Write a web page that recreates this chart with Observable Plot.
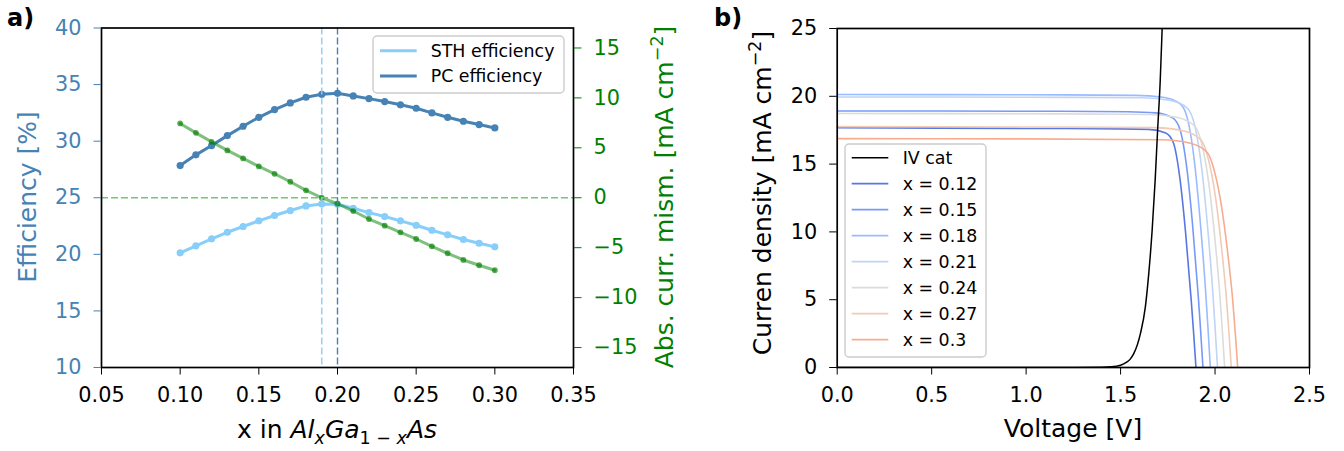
<!DOCTYPE html>
<html>
<head>
<meta charset="utf-8">
<script src="https://cdn.jsdelivr.net/npm/d3@7"></script>
<script src="https://cdn.jsdelivr.net/npm/@observablehq/plot@0.6"></script>
<style>
  html, body { margin: 0; padding: 0; background: #fff; }
  #wrap { position: relative; width: 1344px; height: 451px; overflow: hidden; font-family: "DejaVu Sans", sans-serif; }
  #wrap > svg, #wrap > div { position: absolute; top: 0; }
  #overlay { position: absolute; left: 0; top: 0; pointer-events: none; }
</style>
</head>
<body>
<div id="wrap"></div>
<script>
// ---------- Panel a) data ----------
const alX = [0.10,0.11,0.12,0.13,0.14,0.15,0.16,0.17,0.18,0.19,0.20,0.21,0.22,0.23,0.24,0.25,0.26,0.27,0.28,0.29,0.30];
const pcEff = [27.84,28.79,29.61,30.49,31.32,32.11,32.79,33.38,33.88,34.14,34.23,34.00,33.76,33.50,33.21,32.91,32.50,32.11,31.76,31.47,31.17];
const sthEff = [20.13,20.75,21.37,21.95,22.46,22.96,23.43,23.87,24.28,24.45,24.42,24.07,23.69,23.34,22.96,22.57,22.13,21.72,21.31,20.98,20.66];
const mismatch = [7.44,6.50,5.60,4.74,3.94,3.14,2.40,1.60,0.74,0.00,-0.60,-1.33,-2.13,-2.80,-3.46,-4.13,-4.86,-5.56,-6.23,-6.76,-7.26];
const sthMaxX = 0.19, pcMaxX = 0.20;
const xTicksA = [0.05,0.10,0.15,0.20,0.25,0.30,0.35];
const yTicksA = [10,15,20,25,30,35,40];
const yTicksRight = [-15,-10,-5,0,5,10,15];
const legendA = ["STH efficiency", "PC efficiency"];

// ---------- Panel b) data ----------
const ivV = [0,1.2,1.4,1.45,1.5,1.53,1.55,1.569,1.605,1.631,1.649,1.667,1.683,1.696,1.71,1.72,1.73];
const ivJ = [0,0,0.02,0.05,0.17,0.37,0.6,1.0,2.5,4.45,6.9,10.1,13.8,17.5,21.2,25,29];
const v12 = [0,1.0,1.499,1.649,1.739,1.779,1.814,1.844,1.874,1.887,1.899];
const j12 = [17.68,17.63,17.60,17.56,17.30,16.59,13.94,9.97,4.94,2.47,0];
const v15 = [0,1.0,1.536,1.686,1.776,1.816,1.851,1.881,1.911,1.924,1.936];
const j15 = [18.92,18.90,18.86,18.78,18.41,17.48,14.66,10.53,5.30,2.65,0];
const v18 = [0,1.0,1.575,1.725,1.815,1.855,1.89,1.92,1.95,1.963,1.975];
const j18 = [20.13,20.11,20.07,19.93,19.45,18.30,15.30,11.03,5.64,2.82,0];
const v21 = [0,1.0,1.613,1.763,1.853,1.893,1.928,1.958,1.988,2.001,2.013];
const j21 = [19.95,19.93,19.89,19.70,19.13,17.82,14.86,10.77,5.59,2.79,0];
const v24 = [0,1.0,1.651,1.801,1.891,1.931,1.966,1.996,2.026,2.039,2.051];
const j24 = [18.73,18.71,18.66,18.44,17.82,16.42,13.67,9.96,5.24,2.62,0];
const v27 = [0,1.0,1.686,1.836,1.926,1.966,2.001,2.031,2.061,2.074,2.086];
const j27 = [17.76,17.74,17.69,17.44,16.77,15.30,12.69,9.28,4.97,2.49,0];
const v30 = [0,1.0,1.72,1.87,1.96,2.0,2.035,2.065,2.095,2.108,2.12];
const j30 = [16.88,16.86,16.80,16.54,15.84,14.30,11.83,8.70,4.73,2.37,0];
const cellX = ["0.12","0.15","0.18","0.21","0.24","0.27","0.3"];
const cellColors = ["#5977e3","#779af7","#9abbff","#c0d4f5","#dddcdc","#f2cbb7","#f7ac8e"];
const xTicksB = [0,0.5,1.0,1.5,2.0,2.5];
const yTicksB = [0,5,10,15,20,25];

// ---------- build ----------
const FONT = "DejaVu Sans";
const TICK = 20.8;
const wrap = document.getElementById("wrap");

const rowsA = alX.map((x, i) => ({x, pc: pcEff[i], sth: sthEff[i], mism: mismatch[i]}));
const kR = 30 / 34; // right axis [-17,17] onto left [10,40]
const toLeft = v => 25 + v * kR;
const fmtSigned = v => v < 0 ? "\u2212" + Math.abs(v) : String(v);

const axisCommon = {tickSize: 7.5, tickPadding: 12.5, fontSize: TICK, label: null};

const plotA = Plot.plot({
  width: 710, height: 451,
  marginLeft: 101, marginRight: 137, marginTop: 27.5, marginBottom: 84,
  style: {fontFamily: FONT, background: "transparent", overflow: "visible"},
  x: {domain: [0.05, 0.35], label: null},
  y: {domain: [10, 40], label: null},
  marks: [
    Plot.line(rowsA, {x: "x", y: "sth", stroke: "#87cefa", strokeWidth: 3}),
    Plot.dot(rowsA, {x: "x", y: "sth", fill: "#87cefa", r: 3.6}),
    Plot.line(rowsA, {x: "x", y: "pc", stroke: "#4682b4", strokeWidth: 3}),
    Plot.dot(rowsA, {x: "x", y: "pc", fill: "#4682b4", r: 3.6}),
    Plot.line(rowsA, {x: "x", y: d => toLeft(d.mism), stroke: "green", strokeOpacity: 0.5, strokeWidth: 3}),
    Plot.dot(rowsA, {x: "x", y: d => toLeft(d.mism), fill: "green", fillOpacity: 0.65, r: 2.9}),
    Plot.ruleY([0], {y: d => toLeft(d), stroke: "#73c873", strokeWidth: 1.3, strokeDasharray: "7,3"}),
    Plot.ruleX([sthMaxX], {stroke: "#87cefa", strokeWidth: 1.4, strokeDasharray: "7,3"}),
    Plot.ruleX([pcMaxX], {stroke: "#4682b4", strokeWidth: 1.4, strokeDasharray: "7,3"}),
    Plot.frame({stroke: "black", strokeWidth: 1.7}),
    Plot.axisX(xTicksA, {...axisCommon, tickFormat: d => d.toFixed(2)}),
    Plot.axisY(yTicksA, {...axisCommon, anchor: "left", color: "#4682b4"}),
    Plot.axisY(yTicksRight.map(toLeft), {...axisCommon, anchor: "right", color: "green",
      tickFormat: d => fmtSigned(Math.round((d - 25) / kR))})
  ]
});
plotA.style.left = "0px";
wrap.appendChild(plotA);

const ivRows = ivV.map((v, i) => ({v, j: ivJ[i]}));
const cellV = [v12, v15, v18, v21, v24, v27, v30];
const cellJ = [j12, j15, j18, j21, j24, j27, j30];
const cellRows = [];
cellV.forEach((vs, s) => vs.forEach((v, i) => cellRows.push({v, j: cellJ[s][i], s, color: cellColors[s]})));

const plotB = Plot.plot({
  width: 634, height: 451,
  marginLeft: 126.7, marginRight: 35, marginTop: 28, marginBottom: 84,
  style: {fontFamily: FONT, background: "transparent", overflow: "visible"},
  x: {domain: [0, 2.5], label: null},
  y: {domain: [0, 25], label: null},
  color: {type: "identity"},
  marks: [
    Plot.line(cellRows, {x: "v", y: "j", z: "s", stroke: "color", strokeWidth: 1.6, curve: "monotone-x", clip: true}),
    Plot.line(ivRows, {x: "v", y: "j", stroke: "black", strokeWidth: 1.5, curve: "monotone-x", clip: true}),
    Plot.frame({stroke: "black", strokeWidth: 1.7}),
    Plot.axisX(xTicksB, {...axisCommon, tickFormat: d => d.toFixed(1)}),
    Plot.axisY(yTicksB, {...axisCommon, anchor: "left"})
  ]
});
plotB.style.left = "710px";
wrap.appendChild(plotB);

// ---------- overlay: labels and legends ----------
const NS = "http://www.w3.org/2000/svg";
const ov = document.createElementNS(NS, "svg");
ov.setAttribute("id", "overlay");
ov.setAttribute("width", 1344); ov.setAttribute("height", 451);
ov.setAttribute("font-family", FONT);
wrap.appendChild(ov);
function el(tag, attrs, parent = ov) {
  const e = document.createElementNS(NS, tag);
  for (const k in attrs) e.setAttribute(k, attrs[k]);
  parent.appendChild(e);
  return e;
}
function tspan(parent, text, attrs = {}) {
  const t = el("tspan", attrs, parent);
  t.textContent = text;
  return t;
}
// panel letters
tspan(el("text", {x: 7, y: 26, "font-size": 24, "font-weight": "bold"}), "a)");
tspan(el("text", {x: 714, y: 26, "font-size": 24, "font-weight": "bold"}), "b)");

const LBL = 25;
// left y label
tspan(el("text", {transform: "translate(36,197) rotate(-90)", "text-anchor": "middle", "font-size": LBL, fill: "#4682b4"}), "Efficiency [%]");
// right y label (panel a)
{
  const t = el("text", {transform: "translate(673,197) rotate(-90)", "text-anchor": "middle", "font-size": LBL, fill: "green"});
  tspan(t, "Abs. curr. mism. [mA cm");
  tspan(t, "\u22122", {"font-size": LBL * 0.7, dy: -LBL * 0.42});
  tspan(t, "]", {dy: LBL * 0.42});
}
// x label panel a
{
  const t = el("text", {x: 337, y: 438, "text-anchor": "middle", "font-size": LBL, fill: "black"});
  tspan(t, "x in ");
  tspan(t, "Al", {"font-style": "italic"});
  tspan(t, "x", {"font-style": "italic", "font-size": LBL * 0.7, dy: LBL * 0.22});
  tspan(t, "Ga", {"font-style": "italic", dy: -LBL * 0.22});
  tspan(t, "1 \u2212 ", {"font-size": LBL * 0.7, dy: LBL * 0.22});
  tspan(t, "x", {"font-style": "italic", "font-size": LBL * 0.7});
  tspan(t, "As", {"font-style": "italic", dy: -LBL * 0.22});
}
// panel b labels
{
  const t = el("text", {transform: "translate(771,193) rotate(-90)", "text-anchor": "middle", "font-size": LBL, fill: "black"});
  tspan(t, "Curren density [mA cm");
  tspan(t, "\u22122", {"font-size": LBL * 0.7, dy: -LBL * 0.42});
  tspan(t, "]", {dy: LBL * 0.42});
}
tspan(el("text", {x: 1073, y: 436.5, "text-anchor": "middle", "font-size": LBL}), "Voltage [V]");

// legend a
const LEG = 17.4;
el("rect", {x: 373, y: 36, width: 191, height: 57, rx: 4, fill: "white", "fill-opacity": 0.8, stroke: "#cccccc", "stroke-width": 1.4});
[["#87cefa", 50.7], ["#4682b4", 76]].forEach(([c, y], i) => {
  el("line", {x1: 380, x2: 416.7, y1: y, y2: y, stroke: c, "stroke-width": 3});
  tspan(el("text", {x: 430.7, y: y, dy: "0.36em", "font-size": LEG}), legendA[i]);
});
// legend b
el("rect", {x: 845, y: 144, width: 141, height: 213, rx: 4, fill: "white", "fill-opacity": 0.8, stroke: "#cccccc", "stroke-width": 1.4});
const legB = [["IV cat", "black"]].concat(cellX.map((x, i) => ["x = " + x, cellColors[i]]));
legB.forEach(([name, c], i) => {
  const y = 157.7 + 26 * i;
  el("line", {x1: 851.7, x2: 888.3, y1: y, y2: y, stroke: c, "stroke-width": i === 0 ? 1.5 : 1.8});
  tspan(el("text", {x: 902.7, y: y, dy: "0.36em", "font-size": LEG}), name);
});
</script>
</body>
</html>
